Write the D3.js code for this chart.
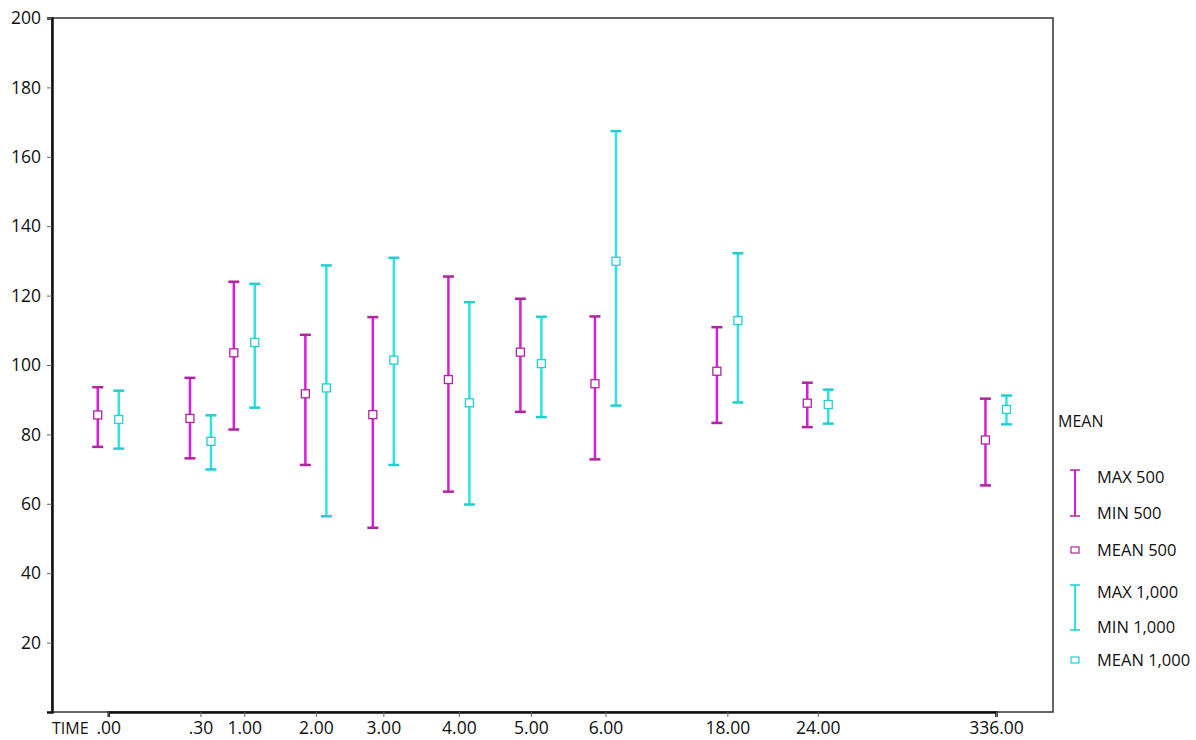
<!DOCTYPE html>
<html>
<head>
<meta charset="utf-8">
<script src="https://cdn.jsdelivr.net/npm/d3@7"></script>
<style>
  body { margin: 0; background: #fff; }
  svg text { font-family: "Open Sans", sans-serif; fill: #111; }
</style>
</head>
<body>
<svg id="chart" width="1196" height="740"></svg>
<script>
// categories (time points)
var times = [".00", ".30", "1.00", "2.00", "3.00", "4.00", "5.00", "6.00", "18.00", "24.00", "336.00"];

// dose 500
var max500  = [93.6, 96.3, 124.0, 108.7, 113.8, 125.5, 119.1, 114.0, 110.9, 94.9, 90.3];
var min500  = [76.4, 73.1, 81.4, 71.2, 53.1, 63.5, 86.5, 72.8, 83.3, 82.1, 65.3];
var mean500 = [85.6, 84.6, 103.5, 91.7, 85.7, 95.8, 103.7, 94.6, 98.2, 89.0, 78.4];

// dose 1,000
var max1000  = [92.6, 85.5, 123.4, 128.7, 130.9, 118.1, 113.9, 167.4, 132.2, 92.9, 91.2];
var min1000  = [75.9, 69.9, 87.7, 56.4, 71.2, 59.8, 85.0, 88.3, 89.2, 83.1, 82.9];
var mean1000 = [84.3, 78.0, 106.5, 93.4, 101.4, 89.1, 100.4, 129.9, 112.8, 88.6, 87.2];

var yTicks = [20, 40, 60, 80, 100, 120, 140, 160, 180, 200];

// layout: where each time slot sits across the plot (fraction of width)
var slotFrac = [0.0562, 0.1483, 0.1921, 0.2636, 0.3310, 0.4065, 0.4784, 0.5529, 0.6747, 0.7650, 0.9430];

var pink = "#d81fd8", pinkDark = "#b0249f";
var cyan = "#2fe3e3", cyanDark = "#22cfcf";

var margin = {left: 52, top: 18, right: 1053, bottom: 712};
var W = margin.right - margin.left;

var svg = d3.select("#chart");

var x = d3.scaleOrdinal()
    .domain(times)
    .range(slotFrac.map(function(f) { return margin.left + f * W; }));

var y = d3.scaleLinear()
    .domain([0, 200])
    .range([margin.bottom, margin.top]);

// frame
svg.append("rect")
    .attr("x", margin.left).attr("y", margin.top)
    .attr("width", W).attr("height", margin.bottom - margin.top)
    .attr("fill", "none").attr("stroke", "#333").attr("stroke-width", 1.5);

// y axis
var yAxis = svg.append("g")
    .attr("transform", "translate(" + margin.left + ",0)")
    .call(d3.axisLeft(y).tickValues(yTicks).tickSize(5).tickPadding(6));
yAxis.select(".domain").attr("stroke", "#111").attr("stroke-width", 2.5);
yAxis.selectAll(".tick line").attr("stroke", "#666");
yAxis.selectAll("text").style("font-size", "17.5px").attr("fill", "#222");

// x axis
var xAxis = svg.append("g")
    .attr("transform", "translate(0," + margin.bottom + ")")
    .call(d3.axisBottom(x).tickSize(5).tickPadding(5));
xAxis.select(".domain").attr("stroke", "#111").attr("stroke-width", 2.5);
xAxis.selectAll(".tick line").attr("stroke", "#666");
xAxis.selectAll("text").style("font-size", "17.5px").attr("fill", "#222");

svg.append("text")
    .attr("x", margin.left).attr("y", margin.bottom + 22)
    .style("font-size", "16px")
    .text("TIME");

// series
var series = [
  {max: max500, min: min500, mean: mean500, dx: -10.5, color: pink, dark: pinkDark},
  {max: max1000, min: min1000, mean: mean1000, dx: 10.5, color: cyan, dark: cyanDark}
];

var cap = 5.5, box = 4;

series.forEach(function(s) {
  var g = svg.append("g");
  var rows = times.map(function(t, i) {
    return {t: t, max: s.max[i], min: s.min[i], mean: s.mean[i]};
  });
  var cx = function(d) { return x(d.t) + s.dx; };

  g.selectAll(".stem").data(rows).enter().append("line")
      .attr("x1", cx).attr("x2", cx)
      .attr("y1", function(d) { return y(d.max); })
      .attr("y2", function(d) { return y(d.min); })
      .attr("stroke", s.color).attr("stroke-width", 2.5);

  g.selectAll(".capTop").data(rows).enter().append("line")
      .attr("x1", function(d) { return cx(d) - cap; })
      .attr("x2", function(d) { return cx(d) + cap; })
      .attr("y1", function(d) { return y(d.max); })
      .attr("y2", function(d) { return y(d.max); })
      .attr("stroke", s.dark).attr("stroke-width", 2.5);

  g.selectAll(".capBot").data(rows).enter().append("line")
      .attr("x1", function(d) { return cx(d) - cap; })
      .attr("x2", function(d) { return cx(d) + cap; })
      .attr("y1", function(d) { return y(d.min); })
      .attr("y2", function(d) { return y(d.min); })
      .attr("stroke", s.dark).attr("stroke-width", 2.5);

  g.selectAll(".meanBox").data(rows).enter().append("rect")
      .attr("x", function(d) { return cx(d) - box; })
      .attr("y", function(d) { return y(d.mean) - box; })
      .attr("width", box * 2).attr("height", box * 2)
      .attr("fill", "#fff").attr("stroke", s.dark).attr("stroke-width", 1.3);
});

// legend
var lg = svg.append("g").attr("transform", "translate(1058,0)");
lg.append("text").attr("x", 0).attr("y", 427).style("font-size", "16px").text("MEAN");

var legendItems = [
  {color: pink, dark: pinkDark, top: 470, bot: 516, maxLabel: "MAX 500", minLabel: "MIN 500", meanLabel: "MEAN 500", meanY: 550},
  {color: cyan, dark: cyanDark, top: 585, bot: 630, maxLabel: "MAX 1,000", minLabel: "MIN 1,000", meanLabel: "MEAN 1,000", meanY: 660}
];
legendItems.forEach(function(it) {
  var bx = 17;
  lg.append("line").attr("x1", bx).attr("x2", bx).attr("y1", it.top).attr("y2", it.bot)
    .attr("stroke", it.color).attr("stroke-width", 2);
  [it.top, it.bot].forEach(function(yy) {
    lg.append("line").attr("x1", bx - 5).attr("x2", bx + 5).attr("y1", yy).attr("y2", yy)
      .attr("stroke", it.dark).attr("stroke-width", 1.5);
  });
  lg.append("text").attr("x", 39).attr("y", it.top + 13).style("font-size", "16.5px").text(it.maxLabel);
  lg.append("text").attr("x", 39).attr("y", it.bot + 3).style("font-size", "16.5px").text(it.minLabel);
  lg.append("rect").attr("x", bx - 4).attr("y", it.meanY - 3).attr("width", 8).attr("height", 6)
    .attr("fill", "#fff").attr("stroke", it.dark).attr("stroke-width", 1.2);
  lg.append("text").attr("x", 39).attr("y", it.meanY + 6).style("font-size", "16.5px").text(it.meanLabel);
});
</script>
</body>
</html>
